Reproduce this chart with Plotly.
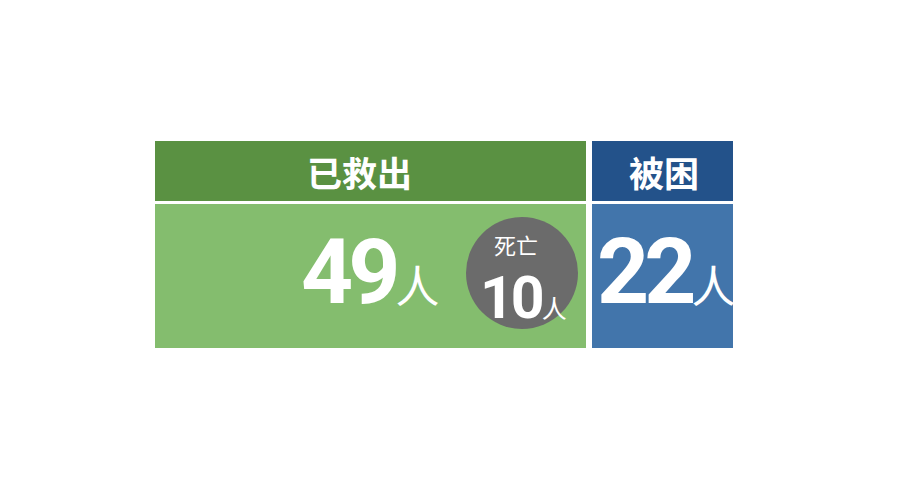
import plotly.graph_objects as go

# data
groups = ['已救出', '被困']
counts = [49, 22]
unit = '人'
dead_label = '死亡'
dead_count = 10

# layout of the two panels (page pixels; the axes are offset for the 8px body margin)
box_x = [(155, 586), (592, 733)]
head_y = (141, 201)
body_y = (204, 348)
head_colors = ['#5a9142', '#23528a']
body_colors = ['#84bd6e', '#4275ab']
num_x = [370, 666]
head_x = [359, 664]

num_font = 'Roboto, sans-serif'
cjk_font = 'Noto Sans CJK SC, sans-serif'
cond = '<span style="letter-spacing:-%dpx">%d</span>'
unit_span = '<span style="font-family:Noto Sans CJK SC;font-size:%dpx;font-weight:normal">%s</span>'

fig = go.Figure()

shapes = []
annotations = []
for i, g in enumerate(groups):
    x0, x1 = box_x[i]
    shapes.append(dict(type='rect', xref='x', yref='y', x0=x0, x1=x1, y0=head_y[0], y1=head_y[1],
                       fillcolor=head_colors[i], line_width=0, layer='below'))
    shapes.append(dict(type='rect', xref='x', yref='y', x0=x0, x1=x1, y0=body_y[0], y1=body_y[1],
                       fillcolor=body_colors[i], line_width=0, layer='below'))
    annotations.append(dict(x=head_x[i], y=(head_y[0] + head_y[1]) / 2, text='<b>' + g + '</b>',
                            showarrow=False, font=dict(family=cjk_font, size=35, color='white'),
                            xanchor='center', yanchor='middle'))
    annotations.append(dict(x=num_x[i], y=272,
                            text=cond % (5, counts[i]) + unit_span % (44, unit),
                            showarrow=False,
                            font=dict(family=num_font, size=91, color='white', weight='bold'),
                            xanchor='center', yanchor='middle'))

# the death circle
fig.add_trace(go.Scatter(x=[522], y=[273], mode='markers',
                         marker=dict(size=112, color='#6b6b6b', line_width=0),
                         hoverinfo='skip', showlegend=False))
annotations.append(dict(x=516, y=262, text=dead_label, showarrow=False,
                        font=dict(family=cjk_font, size=22, color='white'),
                        xanchor='center', yanchor='bottom'))
annotations.append(dict(x=523, y=261,
                        text=cond % (3, dead_count) + unit_span % (25, unit),
                        showarrow=False,
                        font=dict(family=num_font, size=59, color='white', weight='bold'),
                        xanchor='center', yanchor='top'))

fig.update_layout(
    width=900, height=500,
    margin=dict(l=0, r=0, t=0, b=0),
    paper_bgcolor='white', plot_bgcolor='white',
    xaxis=dict(range=[8, 908], visible=False, fixedrange=True),
    yaxis=dict(range=[508, 8], visible=False, fixedrange=True),
    shapes=shapes, annotations=annotations,
    showlegend=False,
)

fig.write_html("out.html")
